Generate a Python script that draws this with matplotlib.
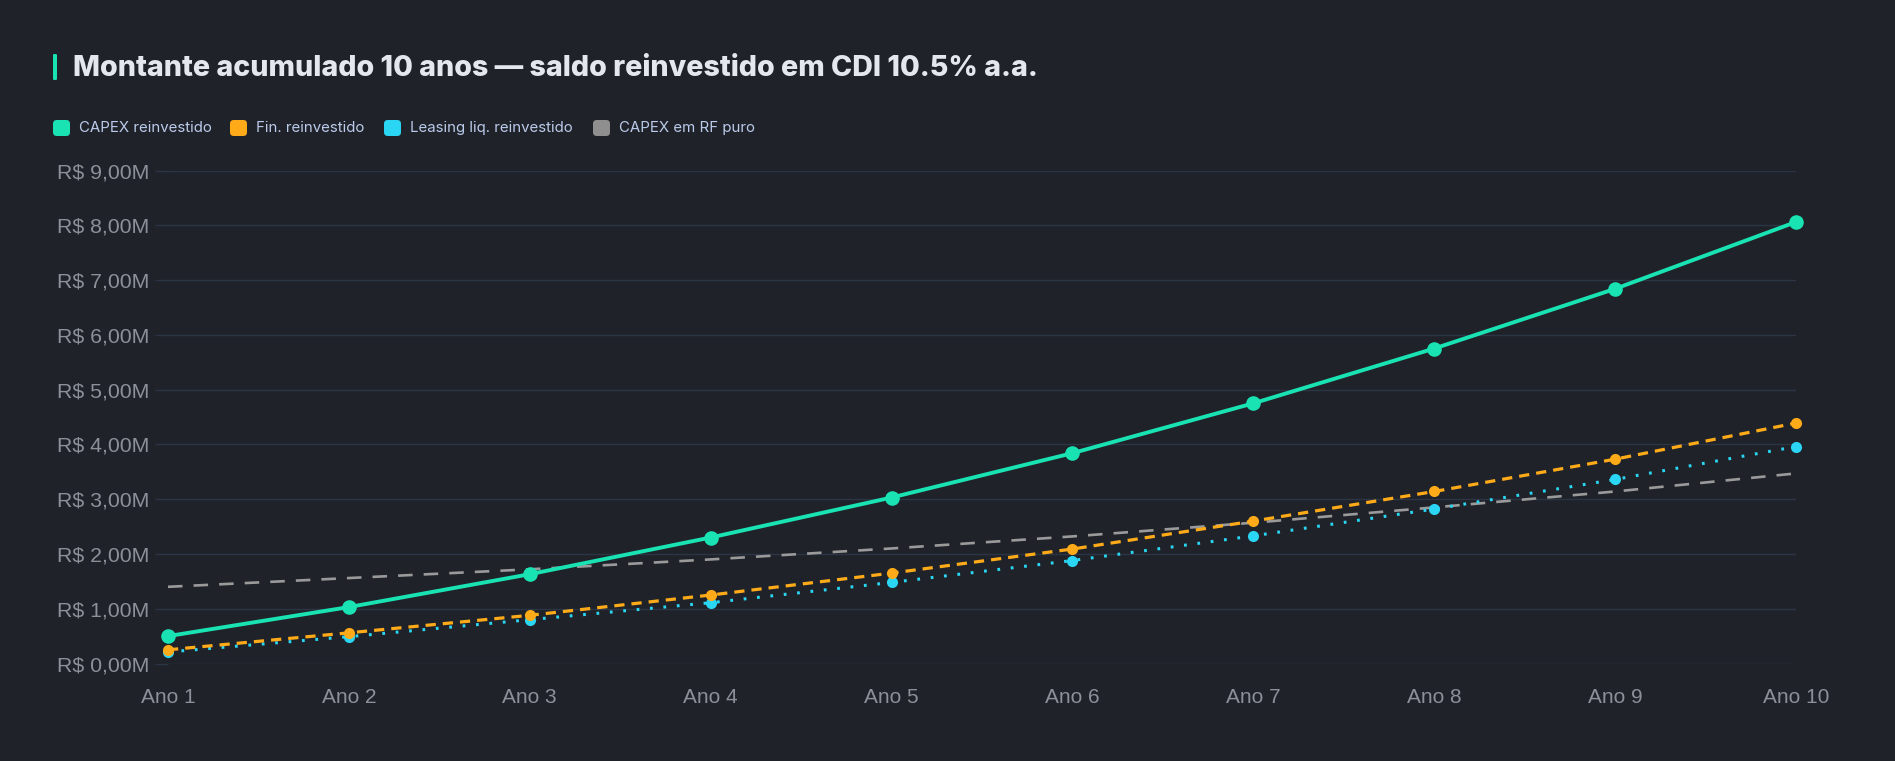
import matplotlib
matplotlib.use("Agg")
import matplotlib.pyplot as plt
from matplotlib.patches import FancyBboxPatch
from matplotlib.ticker import FuncFormatter

categories = ["Ano 1", "Ano 2", "Ano 3", "Ano 4", "Ano 5", "Ano 6", "Ano 7", "Ano 8", "Ano 9", "Ano 10"]
capex_reinv = [0.50, 1.03, 1.63, 2.30, 3.03, 3.84, 4.75, 5.75, 6.84, 8.06]
fin_reinv = [0.25, 0.56, 0.88, 1.25, 1.65, 2.09, 2.60, 3.14, 3.73, 4.39]
leasing_reinv = [0.21, 0.49, 0.80, 1.11, 1.48, 1.88, 2.33, 2.82, 3.36, 3.96]
capex_rf = [1.40, 1.56, 1.72, 1.90, 2.10, 2.32, 2.57, 2.85, 3.14, 3.47]
y_ticks = [0, 1, 2, 3, 4, 5, 6, 7, 8, 9]

title = "Montante acumulado 10 anos — saldo reinvestido em CDI 10.5% a.a."
legend_labels = ["CAPEX reinvestido", "Fin. reinvestido", "Leasing liq. reinvestido", "CAPEX em RF puro"]

BG = "#1f2329"
GRID = "#2b3546"
C_GREEN = "#19e3b3"
C_ORANGE = "#ffab19"
C_CYAN = "#2ad6f3"
C_GRAY = "#9a9a9a"
TICK_C = "#8b9099"

W, H = 1895, 761
fig = plt.figure(figsize=(W / 100, H / 100), dpi=100, facecolor=BG)

ax = fig.add_axes([168 / W, 1 - 663.5 / H, (1796 - 168) / W, (663.5 - 170.5) / H])
ax.set_facecolor(BG)
x = list(range(len(categories)))

ax.plot(x, capex_rf, color=C_GRAY, lw=1.9, dashes=(5.5, 4.2), zorder=2)
ax.plot(x, leasing_reinv, color=C_CYAN, lw=2.2, dashes=(0.9, 3.5), dash_capstyle="butt",
        marker="o", ms=8, markeredgewidth=0, zorder=3, clip_on=False)
ax.plot(x, fin_reinv, color=C_ORANGE, lw=2.3, dashes=(3.2, 2.2),
        marker="o", ms=8, markeredgewidth=0, zorder=4, clip_on=False)
ax.plot(x, capex_reinv, color=C_GREEN, lw=2.8, solid_capstyle="round",
        marker="o", ms=10.5, markeredgewidth=0, zorder=5, clip_on=False)

ax.set_xlim(0, len(categories) - 1)
ax.set_ylim(0, 9)
ax.set_xticks(x)
ax.set_xticklabels(categories)
ax.set_yticks(y_ticks)
ax.yaxis.set_major_formatter(FuncFormatter(lambda v, p: f"R$ {v:.2f}M".replace(".", ",")))
ax.grid(axis="y", color=GRID, lw=1.0)
ax.set_axisbelow(True)
for s in ax.spines.values():
    s.set_visible(False)
ax.tick_params(axis="y", length=9.5, width=1.0, color=GRID, pad=4,
               labelsize=15.3, labelcolor=TICK_C)
ax.tick_params(axis="x", length=0, pad=17.5, labelsize=15.0, labelcolor=TICK_C)
for lab in ax.get_xticklabels() + ax.get_yticklabels():
    lab.set_fontfamily("Liberation Sans")

# Title with accent bar
fig.patches.append(FancyBboxPatch((53 / W, 1 - 80 / H), 4 / W, 26 / H,
                                  boxstyle="round,pad=0,rounding_size=0.001",
                                  transform=fig.transFigure, facecolor=C_GREEN, edgecolor="none"))
fig.text(73 / W, 1 - 68.5 / H, title, color="#e4e7ee", fontsize=20.6, fontweight="heavy",
         family="Inter", va="center", ha="left")

# Legend
leg_colors = [C_GREEN, C_ORANGE, C_CYAN, "#8f8f8f"]
leg_x = [53, 230, 384, 593]
for lx, lc, lt in zip(leg_x, leg_colors, legend_labels):
    fig.patches.append(FancyBboxPatch((lx / W, 1 - 136 / H), 17 / W, 16 / H,
                                      boxstyle="round,pad=0,rounding_size=0.002",
                                      transform=fig.transFigure, facecolor=lc, edgecolor="none",
                                      mutation_aspect=W / H))
    fig.text((lx + 26) / W, 1 - 128 / H, lt, color="#bccbec", fontsize=10.8,
             family="Inter", va="center", ha="left")

fig.savefig("out.png", dpi=100, facecolor=BG)
